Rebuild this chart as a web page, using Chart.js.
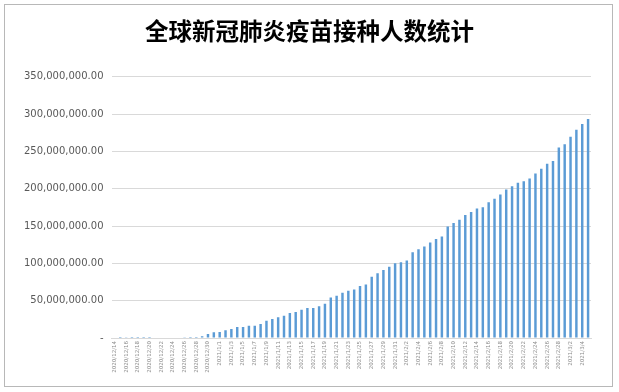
<!DOCTYPE html>
<html>
<head>
<meta charset="utf-8">
<script src="https://cdn.jsdelivr.net/npm/chart.js@4/dist/chart.umd.min.js"></script>
<style>
html,body{margin:0;padding:0;background:#fff;}
#wrap{position:relative;width:619px;height:392px;}
#frame{position:absolute;left:4px;top:4px;width:609px;height:383px;border:1px solid #b8b8b8;box-sizing:border-box;}
canvas{position:absolute;left:0;top:0;}
</style>
</head>
<body>
<div id="wrap"><div id="frame"></div><canvas id="c" width="619" height="392"></canvas></div>
<script>
const titleText = "全球新冠肺炎疫苗接种人数统计";
const categories = [
"2020/12/14","2020/12/15","2020/12/16","2020/12/17","2020/12/18","2020/12/19","2020/12/20","2020/12/21","2020/12/22","2020/12/23",
"2020/12/24","2020/12/25","2020/12/26","2020/12/27","2020/12/28","2020/12/29","2020/12/30","2020/12/31",
"2021/1/1","2021/1/2","2021/1/3","2021/1/4","2021/1/5","2021/1/6","2021/1/7","2021/1/8","2021/1/9","2021/1/10",
"2021/1/11","2021/1/12","2021/1/13","2021/1/14","2021/1/15","2021/1/16","2021/1/17","2021/1/18","2021/1/19","2021/1/20",
"2021/1/21","2021/1/22","2021/1/23","2021/1/24","2021/1/25","2021/1/26","2021/1/27","2021/1/28","2021/1/29","2021/1/30","2021/1/31",
"2021/2/1","2021/2/2","2021/2/3","2021/2/4","2021/2/5","2021/2/6","2021/2/7","2021/2/8","2021/2/9","2021/2/10",
"2021/2/11","2021/2/12","2021/2/13","2021/2/14","2021/2/15","2021/2/16","2021/2/17","2021/2/18","2021/2/19","2021/2/20",
"2021/2/21","2021/2/22","2021/2/23","2021/2/24","2021/2/25","2021/2/26","2021/2/27","2021/2/28",
"2021/3/1","2021/3/2","2021/3/3","2021/3/4","2021/3/5"
];
const vaccinated = [
0,1200000,1100000,1200000,1300000,1200000,1200000,0,0,0,
0,0,1000000,1200000,1400000,2500000,5500000,7600000,
8000000,10300000,12000000,14700000,14700000,16500000,16500000,18800000,23200000,25400000,
27700000,29900000,33500000,34800000,37900000,40200000,40200000,42400000,46000000,54400000,
56600000,60600000,63300000,65100000,69600000,71800000,82200000,86700000,91200000,95600000,100100000,
101500000,103700000,115000000,119000000,122600000,128000000,132500000,136000000,149500000,154000000,
158500000,164800000,168800000,173300000,175100000,181900000,186400000,192200000,198900000,203400000,
207900000,210100000,213700000,220500000,226800000,233500000,237100000,
255000000,259500000,269400000,278900000,286500000,293200000
];
const yTicks = [0,50000000,100000000,150000000,200000000,250000000,300000000,350000000];

function fmt(v){
  if (v === 0) return "-";
  return v.toLocaleString("en-US",{minimumFractionDigits:2,maximumFractionDigits:2});
}

new Chart(document.getElementById("c"), {
  type: "bar",
  data: {
    labels: categories,
    datasets: [{
      label: "接种人数",
      data: vaccinated,
      backgroundColor: "#5B9BD5",
      borderWidth: 0,
      categoryPercentage: 1.0,
      barPercentage: 0.42,
      yAxisID: "y"
    }]
  },
  options: {
    responsive: false,
    animation: false,
    devicePixelRatio: 1,
    layout: { padding: 0 },
    plugins: {
      legend: { display: false },
      tooltip: { enabled: false },
      title: {
        display: true,
        text: titleText,
        color: "#000000",
        font: { family: "'Noto Sans CJK SC', sans-serif", size: 23.5, weight: "bold" },
        padding: { top: 17, bottom: 31.5 }
      }
    },
    scales: {
      x: {
        grid: { display: false, drawTicks: false },
        border: { display: true, color: "#d9d9d9", width: 1 },
        afterFit: (s) => { s.height = 54; },
        ticks: {
          autoSkip: false,
          maxRotation: 90,
          minRotation: 90,
          padding: 3,
          color: "#8c8c8c",
          font: { family: "DejaVu Sans", size: 5.5 },
          callback: function(v, i){ return i % 2 === 0 ? categories[i] : ""; }
        }
      },
      y: {
        min: 0,
        max: 350000000,
        afterBuildTicks: (s) => { s.ticks = yTicks.map(v => ({value: v})); },
        afterFit: (s) => { s.width = 111.5; },
        grid: { color: "#d9d9d9", lineWidth: 1, drawTicks: false },
        border: { display: false },
        ticks: {
          padding: 8,
          color: "#595959",
          font: { family: "DejaVu Sans", size: 10 },
          callback: (v) => fmt(v)
        }
      },
      yRight: {
        position: "right",
        min: 0,
        max: 350000000,
        afterFit: (s) => { s.width = 28; },
        grid: { display: false, drawTicks: false },
        border: { display: false },
        ticks: { display: false }
      }
    }
  }
});
</script>
</body>
</html>
